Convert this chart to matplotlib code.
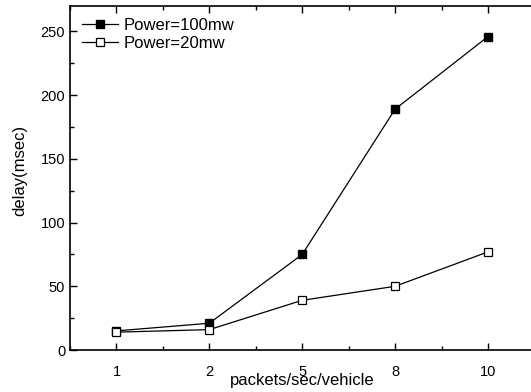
import matplotlib
matplotlib.use("Agg")
import matplotlib.pyplot as plt
from matplotlib.ticker import MultipleLocator

plt.rcParams['font.family'] = ['Liberation Sans', 'DejaVu Sans']

categories = ["1", "2", "5", "8", "10"]
delay_100mw = [15, 21, 75, 189, 246]
delay_20mw = [14, 16, 39, 50, 77]

fig = plt.figure(figsize=(5.31, 3.92), dpi=100)
ax = fig.add_axes([70 / 531, 42 / 392, 464.4 / 531, 344 / 392])

pos = list(range(1, len(categories) + 1))
ax.plot(pos, delay_100mw, color='black', lw=0.9, marker='s', ms=6,
        mfc='black', mec='black', label='Power=100mw')
ax.plot(pos, delay_20mw, color='black', lw=0.9, marker='s', ms=6,
        mfc='white', mec='black', mew=0.9, label='Power=20mw')

ax.set_xlim(0.5, 5.5)
ax.set_ylim(0, 270)
ax.set_xticks(pos)
ax.set_xticklabels(categories)
ax.xaxis.set_minor_locator(MultipleLocator(0.5))
ax.yaxis.set_major_locator(MultipleLocator(50))
ax.yaxis.set_minor_locator(MultipleLocator(25))

ax.tick_params(which='both', direction='in', top=True, right=False,
               labelsize=10.5, width=1)
ax.tick_params(which='major', length=5)
ax.tick_params(which='minor', length=3)
ax.tick_params(axis='x', pad=10.5)
for s in ax.spines.values():
    s.set_linewidth(1.2)

ax.set_xlabel('packets/sec/vehicle', fontsize=12)
ax.xaxis.set_label_coords(0.5, -0.066)
ax.set_ylabel('delay(msec)', fontsize=12)
ax.yaxis.set_label_coords(-0.093, 0.523)

ax.legend(loc='upper left', frameon=False, fontsize=12, handlelength=2.2,
          handletextpad=0.3, labelspacing=0.2, borderaxespad=0.3,
          bbox_to_anchor=(0.0, 1.0))

fig.savefig("out.png", dpi=100)
